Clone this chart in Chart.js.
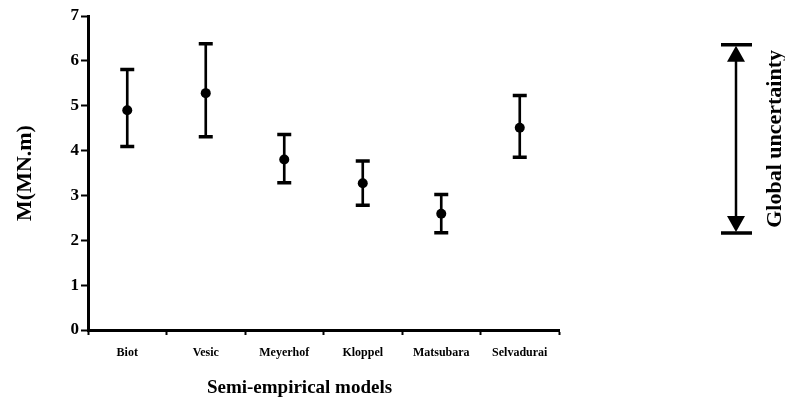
<!DOCTYPE html>
<html>
<head>
<meta charset="utf-8">
<script src="https://cdn.jsdelivr.net/npm/chart.js@4"></script>
<style>
  html, body { margin: 0; padding: 0; background: #fff; }
  #wrap { width: 785px; height: 407px; }
</style>
</head>
<body>
<div id="wrap"><canvas id="myChart" width="785" height="407"></canvas></div>
<script>
const models = ['Biot', 'Vesic', 'Meyerhof', 'Kloppel', 'Matsubara', 'Selvadurai'];
const meanM = [4.90, 5.28, 3.80, 3.27, 2.59, 4.51];
const upperM = [5.81, 6.38, 4.36, 3.77, 3.02, 5.23];
const lowerM = [4.09, 4.31, 3.28, 2.78, 2.17, 3.85];
const yTicks = [0, 1, 2, 3, 4, 5, 6, 7];
const globalRange = [2.16, 6.36];

const serif = '"Liberation Serif", "Times New Roman", serif';

// arrow + label for the global uncertainty (right of the plot), and the x title
const extras = {
  id: 'extras',
  afterDraw(chart) {
    const ctx = chart.ctx;
    const y = chart.scales.y;
    const area = chart.chartArea;
    const x = area.right + 177;
    const yTop = y.getPixelForValue(globalRange[1]);
    const yBot = y.getPixelForValue(globalRange[0]);
    ctx.save();
    ctx.strokeStyle = '#000';
    ctx.fillStyle = '#000';
    // caps
    ctx.lineWidth = 3.5;
    ctx.beginPath();
    ctx.moveTo(x - 15, yTop); ctx.lineTo(x + 16, yTop);
    ctx.moveTo(x - 15, yBot); ctx.lineTo(x + 16, yBot);
    ctx.stroke();
    // shaft
    ctx.lineWidth = 2.5;
    ctx.beginPath();
    ctx.moveTo(x, yTop + 10); ctx.lineTo(x, yBot - 10);
    ctx.stroke();
    // heads
    ctx.beginPath();
    ctx.moveTo(x, yTop + 1); ctx.lineTo(x - 9, yTop + 17); ctx.lineTo(x + 9, yTop + 17);
    ctx.closePath(); ctx.fill();
    ctx.beginPath();
    ctx.moveTo(x, yBot - 1); ctx.lineTo(x - 9, yBot - 17); ctx.lineTo(x + 9, yBot - 17);
    ctx.closePath(); ctx.fill();
    // x axis title, sits a bit left of centre like the original
    ctx.font = 'bold 19px ' + serif;
    ctx.textAlign = 'center';
    ctx.textBaseline = 'middle';
    ctx.fillText('Semi-empirical models', (area.left + area.right) / 2 - 24, 388);
    // label
    ctx.translate(x + 39, (yTop + yBot) / 2);
    ctx.rotate(-Math.PI / 2);
    ctx.font = 'bold 22px ' + serif;
    ctx.fillText('Global uncertainty', 0, 0);
    ctx.restore();
  }
};

const ctx = document.getElementById('myChart').getContext('2d');
const chart = new Chart(ctx, {
  type: 'bar',
  data: {
    labels: models,
    datasets: [
      {
        type: 'bar',
        data: lowerM.map((lo, i) => [lo, upperM[i]]),
        backgroundColor: '#000',
        barThickness: 2,
        grouped: false,
        order: 3
      },
      {
        type: 'line',
        data: upperM,
        showLine: false,
        pointStyle: 'line',
        pointRadius: 7,
        pointBorderWidth: 3.5,
        borderColor: '#000',
        order: 2
      },
      {
        type: 'line',
        data: lowerM,
        showLine: false,
        pointStyle: 'line',
        pointRadius: 7,
        pointBorderWidth: 3.5,
        borderColor: '#000',
        order: 2
      },
      {
        type: 'line',
        data: meanM,
        showLine: false,
        pointStyle: 'circle',
        pointRadius: 5,
        pointBorderWidth: 0,
        backgroundColor: '#000',
        borderColor: '#000',
        order: 1
      }
    ]
  },
  options: {
    responsive: false,
    animation: false,
    layout: { padding: { left: 0, right: 226, top: 16, bottom: 0 } },
    plugins: { legend: { display: false }, tooltip: { enabled: false } },
    scales: {
      x: {
        offset: true,
        afterFit: (s) => { s.height = 77; },
        grid: {
          offset: true,
          drawOnChartArea: false,
          tickLength: 5,
          tickWidth: 2,
          tickColor: '#000'
        },
        border: { color: '#000', width: 3 },
        ticks: {
          color: '#000',
          padding: 11,
          font: { family: serif, size: 12, weight: 'bold' }
        }
      },
      y: {
        min: 0,
        max: 7,
        afterFit: (s) => { s.width = 88; },
        afterBuildTicks: (s) => { s.ticks = yTicks.map(v => ({ value: v })); },
        grid: {
          drawOnChartArea: false,
          tickLength: 7,
          tickWidth: 2,
          tickColor: '#000'
        },
        border: { color: '#000', width: 3 },
        ticks: {
          color: '#000',
          padding: 2,
          font: { family: serif, size: 17, weight: 'bold' }
        },
        title: {
          display: true,
          text: 'M(MN.m)',
          color: '#000',
          padding: { top: 12, bottom: 0 },
          font: { family: serif, size: 22, weight: 'bold' }
        }
      }
    }
  },
  plugins: [extras]
});
</script>
</body>
</html>
